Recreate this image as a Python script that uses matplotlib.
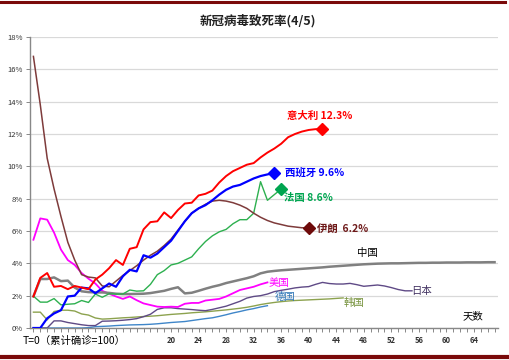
import matplotlib
matplotlib.use('Agg')
import matplotlib.pyplot as plt
import numpy as np

plt.rcParams['font.family'] = ['Noto Sans CJK SC', 'DejaVu Sans']

# 致死率 (%)，T=0 为累计确诊达到100例的那天
italy = [1.95, 3.1, 3.4, 2.55, 2.6, 2.4, 2.6, 2.5, 2.4, 3.0, 3.3, 3.7, 4.2, 3.9, 4.9,
         5.0, 6.1, 6.55, 6.6, 7.15, 6.8, 7.3, 7.7, 7.75, 8.2, 8.3, 8.5, 9.0, 9.4, 9.7,
         9.9, 10.1, 10.2, 10.55, 10.85, 11.1, 11.4, 11.8, 12.0, 12.15, 12.25, 12.3, 12.3]
spain = [0.0, 0.0, 0.6, 0.9, 1.1, 1.95, 2.0, 2.5, 2.45, 2.15, 2.45, 2.75, 2.55, 3.2, 3.6,
         3.5, 4.5, 4.35, 4.6, 5.0, 5.4, 6.0, 6.6, 7.1, 7.4, 7.6, 7.9, 8.25, 8.55, 8.75,
         8.85, 9.05, 9.25, 9.4, 9.5, 9.6]
france = [1.97, 1.6, 1.6, 1.82, 1.43, 1.47, 1.5, 1.7, 1.58, 2.1, 1.9, 2.12, 2.1, 2.1, 2.35,
          2.28, 2.3, 2.7, 3.3, 3.55, 3.9, 4.0, 4.2, 4.4, 4.9, 5.35, 5.7, 5.95, 6.1, 6.45,
          6.7, 6.7, 7.1, 9.05, 7.9, 8.25, 8.6]
iran = [16.8, 13.8, 10.5, 8.6, 6.9, 5.3, 4.2, 3.3, 3.15, 3.1, 2.6, 2.55, 2.9, 3.25, 3.55,
        3.85, 4.2, 4.5, 4.75, 5.1, 5.5, 6.05, 6.6, 7.1, 7.4, 7.65, 7.85, 7.9, 7.85, 7.75,
        7.6, 7.4, 7.1, 6.85, 6.65, 6.5, 6.4, 6.3, 6.25, 6.2, 6.2]
china = [1.96, 3.03, 3.03, 3.13, 2.9, 2.93, 2.5, 2.27, 2.22, 2.2, 2.2, 2.17, 2.12, 2.1, 2.1,
         2.11, 2.12, 2.16, 2.23, 2.3, 2.42, 2.52, 2.14, 2.18, 2.3, 2.43, 2.55, 2.65, 2.78, 2.88,
         2.98, 3.08, 3.2, 3.38, 3.48, 3.53, 3.57, 3.6, 3.63, 3.66, 3.69, 3.72, 3.75, 3.79, 3.82,
         3.85, 3.88, 3.91, 3.94, 3.96, 3.98, 3.99, 4.0, 4.0, 4.01, 4.02, 4.03, 4.03, 4.04, 4.04,
         4.05, 4.05, 4.05, 4.06, 4.06, 4.06, 4.07, 4.07]
usa = [5.46, 6.78, 6.7, 5.9, 4.85, 4.2, 3.9, 3.4, 3.05, 2.75, 2.3, 2.12, 1.95, 1.8, 1.95,
       1.72, 1.52, 1.42, 1.32, 1.3, 1.32, 1.3, 1.5, 1.55, 1.55, 1.7, 1.75, 1.8, 1.95, 2.15,
       2.35, 2.45, 2.55, 2.7, 2.82]
germany = [0.0, 0.0, 0.0, 0.0, 0.0, 0.0, 0.0, 0.0, 0.02, 0.08, 0.1, 0.12, 0.15, 0.17, 0.19,
           0.2, 0.21, 0.23, 0.26, 0.3, 0.34, 0.37, 0.4, 0.46, 0.52, 0.58, 0.63, 0.72, 0.82, 0.93,
           1.02, 1.12, 1.2, 1.3, 1.38]
korea = [0.98, 0.98, 0.5, 1.02, 1.1, 1.1, 1.05, 0.87, 0.8, 0.62, 0.55, 0.57, 0.6, 0.63, 0.65,
         0.68, 0.71, 0.73, 0.76, 0.8, 0.84, 0.87, 0.9, 0.94, 0.97, 1.0, 1.04, 1.08, 1.12, 1.17,
         1.22, 1.28, 1.36, 1.45, 1.52, 1.58, 1.63, 1.67, 1.7, 1.72, 1.74, 1.76, 1.78, 1.8, 1.83,
         1.86]
japan = [0.0, 0.0, 0.0, 0.44, 0.44, 0.34, 0.27, 0.2, 0.15, 0.15, 0.42, 0.43, 0.45, 0.48, 0.52,
         0.58, 0.7, 0.85, 1.15, 1.25, 1.25, 1.2, 1.17, 1.14, 1.1, 1.07, 1.15, 1.25, 1.35, 1.5,
         1.65, 1.85, 1.95, 2.0, 2.1, 2.25, 2.33, 2.4, 2.48, 2.53, 2.56, 2.7, 2.82, 2.75, 2.72,
         2.72, 2.76, 2.68, 2.58, 2.62, 2.66, 2.6, 2.5, 2.38, 2.3, 2.3]

x_tick_labels = [20, 24, 28, 32, 36, 40, 44, 48, 52, 56, 60, 64]
y_ticks = [0, 2, 4, 6, 8, 10, 12, 14, 16, 18]

fig = plt.figure(figsize=(5.09, 3.60), dpi=100)
ax = fig.add_axes([0.0589, 0.0889, 0.9195, 0.8083])

# series: (data, colour, width, zorder)
series = [
    (korea, '#8CA24E', 1.0, 2),
    (germany, '#3F86C9', 1.0, 2),
    (japan, '#5F4A86', 1.0, 2),
    (usa, '#FF00FF', 1.3, 3),
    (china, '#808080', 1.8, 3),
    (france, '#2DB04F', 1.0, 3),
    (iran, '#7E3B3B', 1.1, 4),
    (spain, '#0000FF', 1.6, 5),
    (italy, '#FF0000', 1.4, 6),
]
for vals, col, lw, z in series:
    ax.plot(np.arange(len(vals)), vals, color=col, lw=lw, zorder=z, solid_joinstyle='round')

# end markers
ends = [(italy, '#FF0000'), (spain, '#0000FF'), (france, '#00A550'), (iran, '#6E0A0A')]
for vals, col in ends:
    ax.plot(len(vals) - 1, vals[-1], marker='D', ms=6, color=col, zorder=7)

ax.set_xlim(-0.5, 67.5)
ax.set_ylim(0, 18)
ax.set_yticks(y_ticks)
ax.set_yticklabels([f'{v}%' for v in y_ticks], fontsize=5.5, color='#333333')
ax.set_xticks(np.arange(0, 68))
ax.set_xticklabels([str(d) if d in x_tick_labels else '' for d in range(68)],
                   fontsize=5.5, fontweight='bold', color='#333333')
ax.tick_params(axis='x', direction='out', length=3, width=0.7, color='#888888', pad=3)
ax.tick_params(axis='y', direction='out', length=3, width=0.7, color='#888888', pad=2)
ax.grid(axis='y', color='#D9D9D9', lw=0.9)
ax.set_axisbelow(True)
for s in ['top', 'right']:
    ax.spines[s].set_visible(False)
for s in ['left', 'bottom']:
    ax.spines[s].set_color('#888888')
    ax.spines[s].set_linewidth(1.0)

fs = 7.5
ax.text(36.9, 13.1, '意大利 12.3%', color='#FF0000', fontsize=fs, fontweight='bold', va='center')
ax.text(36.6, 9.6, '西班牙 9.6%', color='#0000FF', fontsize=fs, fontweight='bold', va='center')
ax.text(36.4, 8.05, '法国 8.6%', color='#00A550', fontsize=fs, fontweight='bold', va='center')
ax.text(41.2, 6.12, '伊朗  6.2%', color='#6E1A1A', fontsize=fs, fontweight='bold', va='center')
ax.text(47.0, 4.64, '中国', color='#000000', fontsize=fs, va='center')
ax.text(34.1, 2.8, '美国', color='#FF00FF', fontsize=fs, va='center')
ax.text(35.0, 1.92, '德国', color='#2E75B6', fontsize=fs, va='center')
ax.text(45.0, 1.55, '韩国', color='#76923C', fontsize=fs, va='center')
ax.text(54.9, 2.29, '日本', color='#403060', fontsize=fs, va='center')
ax.text(62.3, 0.74, '天数', color='#000000', fontsize=fs, va='center')

fig.text(0.507, 0.942, '新冠病毒致死率(4/5)', ha='center', va='center',
         fontsize=9, fontweight='bold', color='#222222')
fig.text(0.045, 0.053, 'T=0（累计确诊=100）', ha='left', va='center',
         fontsize=7.5, color='#000000')

# dark red frame lines at the top and bottom
fig.add_artist(plt.Line2D([0, 0.993], [0.994, 0.994], color='#7A0A0A', lw=2.2))
fig.add_artist(plt.Line2D([0, 1], [0.007, 0.007], color='#7A0A0A', lw=3))

fig.savefig('out.png', dpi=100)
